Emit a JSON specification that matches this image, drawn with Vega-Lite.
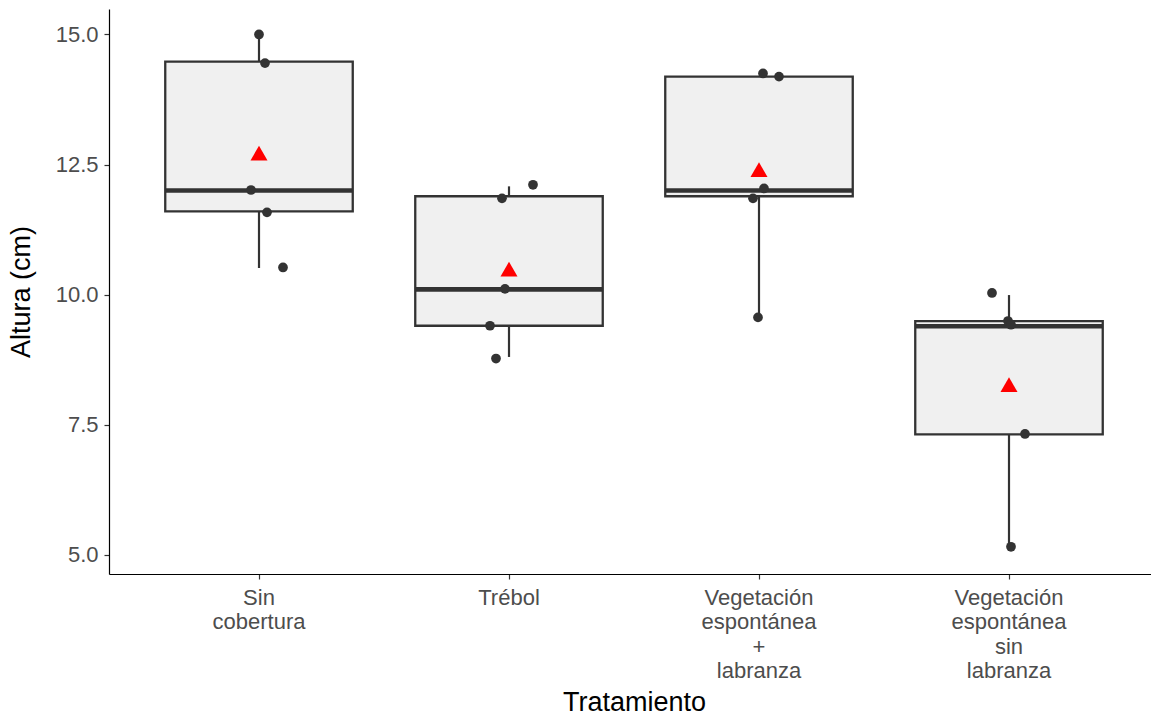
{
  "$schema": "https://vega.github.io/schema/vega-lite/v6.json",
  "width": 1050,
  "height": 565,
  "autosize": "none",
  "padding": {"left": 109, "top": 9, "right": 0, "bottom": 144},
  "background": "white",
  "datasets": {
    "points": [
      {"tratamiento": "Sin cobertura", "altura": 15.0, "jitter": 0.0},
      {"tratamiento": "Sin cobertura", "altura": 14.45, "jitter": 0.024},
      {"tratamiento": "Sin cobertura", "altura": 12.01, "jitter": -0.032},
      {"tratamiento": "Sin cobertura", "altura": 11.58, "jitter": 0.032},
      {"tratamiento": "Sin cobertura", "altura": 10.52, "jitter": 0.096},
      {"tratamiento": "Trébol", "altura": 12.11, "jitter": 0.096},
      {"tratamiento": "Trébol", "altura": 11.85, "jitter": -0.028},
      {"tratamiento": "Trébol", "altura": 10.11, "jitter": -0.016},
      {"tratamiento": "Trébol", "altura": 9.40, "jitter": -0.076},
      {"tratamiento": "Trébol", "altura": 8.77, "jitter": -0.052},
      {"tratamiento": "Vegetación espontánea + labranza", "altura": 14.25, "jitter": 0.016},
      {"tratamiento": "Vegetación espontánea + labranza", "altura": 14.19, "jitter": 0.08},
      {"tratamiento": "Vegetación espontánea + labranza", "altura": 12.04, "jitter": 0.02},
      {"tratamiento": "Vegetación espontánea + labranza", "altura": 11.85, "jitter": -0.024},
      {"tratamiento": "Vegetación espontánea + labranza", "altura": 9.56, "jitter": -0.004},
      {"tratamiento": "Vegetación espontánea sin labranza", "altura": 10.03, "jitter": -0.068},
      {"tratamiento": "Vegetación espontánea sin labranza", "altura": 9.49, "jitter": -0.004},
      {"tratamiento": "Vegetación espontánea sin labranza", "altura": 9.42, "jitter": 0.008},
      {"tratamiento": "Vegetación espontánea sin labranza", "altura": 7.32, "jitter": 0.064},
      {"tratamiento": "Vegetación espontánea sin labranza", "altura": 5.15, "jitter": 0.008}
    ],
    "boxes": [
      {"tratamiento": "Sin cobertura", "lower": 10.51, "q1": 11.60, "median": 12.00, "q3": 14.48, "upper": 15.0, "mean": 12.72},
      {"tratamiento": "Trébol", "lower": 8.80, "q1": 9.40, "median": 10.10, "q3": 11.89, "upper": 12.08, "mean": 10.49},
      {"tratamiento": "Vegetación espontánea + labranza", "lower": 9.56, "q1": 11.89, "median": 12.00, "q3": 14.19, "upper": 14.19, "mean": 12.40},
      {"tratamiento": "Vegetación espontánea sin labranza", "lower": 5.15, "q1": 7.31, "median": 9.39, "q3": 9.49, "upper": 9.99, "mean": 8.27}
    ]
  },
  "config": {
    "font": "Liberation Sans",
    "view": {"stroke": null},
    "axis": {
      "grid": false,
      "domainColor": "black",
      "domainWidth": 1.2,
      "tickColor": "#333333",
      "tickWidth": 1.2,
      "tickSize": 5,
      "labelColor": "#4D4D4D",
      "labelFontSize": 22,
      "labelFont": "Liberation Sans",
      "titleFont": "Liberation Sans",
      "titleFontSize": 27,
      "titleFontWeight": "normal",
      "titleColor": "black"
    }
  },
  "resolve": {"scale": {"xOffset": "independent"}},
  "encoding": {
    "x": {
      "field": "tratamiento",
      "type": "nominal",
      "sort": ["Sin cobertura", "Trébol", "Vegetación espontánea + labranza", "Vegetación espontánea sin labranza"],
      "scale": {"paddingInner": 0, "paddingOuter": 0.1},
      "axis": {
        "title": "Tratamiento",
        "labelAngle": 0,
        "labelExpr": "split(datum.label, ' ')",
        "labelLineHeight": 24.5,
        "labelPadding": 8,
        "titlePadding": 8
      }
    }
  },
  "layer": [
    {
      "data": {"name": "boxes"},
      "mark": {"type": "rule", "color": "#333333", "strokeWidth": 2.2},
      "encoding": {
        "y": {
          "field": "lower",
          "type": "quantitative",
          "scale": {"domain": [4.627, 15.49], "nice": false, "zero": false},
          "axis": {
            "title": "Altura (cm)",
            "values": [5, 7.5, 10, 12.5, 15],
            "format": ".1f",
            "labelPadding": 6,
            "titlePadding": 20
          }
        },
        "y2": {"field": "upper"}
      }
    },
    {
      "data": {"name": "boxes"},
      "mark": {"type": "bar", "fill": "#F0F0F0", "stroke": "#333333", "strokeWidth": 2.3, "width": {"band": 0.75}},
      "encoding": {
        "y": {"field": "q1", "type": "quantitative"},
        "y2": {"field": "q3"}
      }
    },
    {
      "data": {"name": "boxes"},
      "mark": {"type": "bar", "fill": "#333333", "stroke": "#333333", "strokeWidth": 4.6, "width": {"band": 0.75}},
      "encoding": {
        "y": {"field": "median", "type": "quantitative"},
        "y2": {"field": "median"}
      }
    },
    {
      "data": {"name": "points"},
      "mark": {"type": "circle", "color": "#333333", "opacity": 1, "size": 95},
      "encoding": {
        "y": {"field": "altura", "type": "quantitative"},
        "xOffset": {"field": "jitter", "type": "quantitative", "scale": {"domain": [-0.5, 0.5], "range": [0, 250]}}
      }
    },
    {
      "data": {"name": "boxes"},
      "mark": {"type": "point", "shape": "triangle-up", "filled": true, "color": "red", "opacity": 1, "size": 290},
      "encoding": {
        "y": {"field": "mean", "type": "quantitative"}
      }
    }
  ]
}
